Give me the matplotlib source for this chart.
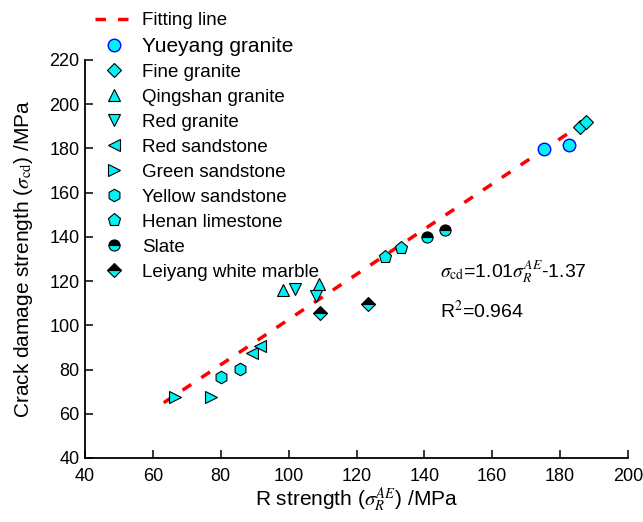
import numpy as np
import matplotlib
matplotlib.use("Agg")
import matplotlib.pyplot as plt

plt.rcParams['font.family'] = ['Liberation Sans', 'DejaVu Sans']
plt.rcParams['mathtext.fontset'] = 'stix'

# data
yueyang_x = [175.3, 182.6]
yueyang_y = [179.8, 181.4]
fine_x = [185.9, 187.6]
fine_y = [189.7, 192.0]
qingshan_x = [98.2, 108.9]
qingshan_y = [116.0, 118.9]
redgranite_x = [102.0, 108.2]
redgranite_y = [116.4, 113.3]
redsand_x = [89.1, 91.5]
redsand_y = [87.5, 90.7]
greensand_x = [66.5, 77.0]
greensand_y = [67.6, 67.4]
yellowsand_x = [80.0, 85.6]
yellowsand_y = [76.6, 80.3]
henan_x = [128.5, 133.0]
henan_y = [130.9, 135.0]
slate_x = [140.9, 146.2]
slate_y = [140.0, 143.1]
leiyang_x = [109.1, 123.5]
leiyang_y = [105.6, 109.6]
fit_x = [63.2, 189.0]
fit_y = [65.0, 193.6]

xticks = [40, 60, 80, 100, 120, 140, 160, 180, 200]
yticks = [40, 60, 80, 100, 120, 140, 160, 180, 200, 220]

cyan = '#00f0f5'

fig = plt.figure(figsize=(6.43, 5.22), dpi=100)
ax = fig.add_axes([85/643, 1-458/522, (628-85)/643, (458-60)/522])

ax.plot(fit_x, fit_y, color='red', lw=2.5, dashes=(3, 3.5), label='Fitting line', zorder=1)

mk = dict(ls='none', mfc=cyan, mec='black', mew=0.8, zorder=3)
ax.plot(yueyang_x, yueyang_y, 'o', ms=9, ls='none', mfc=cyan, mec='blue', mew=1.0,
        label='Yueyang granite', zorder=3)
ax.plot(fine_x, fine_y, 'D', ms=7, label='Fine granite', **mk)
ax.plot(qingshan_x, qingshan_y, '^', ms=8, label='Qingshan granite', **mk)
ax.plot(redgranite_x, redgranite_y, 'v', ms=8, label='Red granite', **mk)
ax.plot(redsand_x, redsand_y, '<', ms=8, label='Red sandstone', **mk)
ax.plot(greensand_x, greensand_y, '>', ms=8, label='Green sandstone', **mk)
ax.plot(yellowsand_x, yellowsand_y, 'h', ms=9, label='Yellow sandstone', **mk)
ax.plot(henan_x, henan_y, 'p', ms=9.5, label='Henan limestone', **mk)
ax.plot(slate_x, slate_y, 'o', ms=8, ls='none', fillstyle='top', mfc='black',
        mfcalt=cyan, mec='black', mew=0.8, label='Slate', zorder=3)
ax.plot(leiyang_x, leiyang_y, 'D', ms=7, ls='none', fillstyle='top', mfc='black',
        mfcalt=cyan, mec='black', mew=0.8, label='Leiyang white marble', zorder=3)

ax.set_xlim(40, 200)
ax.set_ylim(40, 220)
ax.set_xticks(xticks)
ax.set_yticks(yticks)
ax.spines['top'].set_visible(False)
ax.spines['right'].set_visible(False)
for s in ['left', 'bottom']:
    ax.spines[s].set_linewidth(1.3)
ax.tick_params(direction='in', length=6, width=1.1, labelsize=13)
ax.tick_params(axis='x', pad=7)
ax.tick_params(axis='y', pad=4)

ax.set_xlabel(r'R strength ($\sigma_R^{AE}$) /MPa', fontsize=15, labelpad=0)
ax.set_ylabel(r'Crack damage strength ($\sigma_{\mathrm{cd}}$) /MPa', fontsize=15, labelpad=10)

ax.text(144.7, 124.0, r'$\sigma_{\mathrm{cd}}$=1.01$\sigma_R^{AE}$-1.37', fontsize=14,
        va='center', ha='left')
ax.text(144.7, 106.5, r'R$^2$=0.964', fontsize=14, va='center', ha='left')

leg = ax.legend(loc='upper left', bbox_to_anchor=(95/643, 1-12/522),
                bbox_transform=fig.transFigure, frameon=False, fontsize=13.5,
                borderpad=0, borderaxespad=0, handlelength=2.0, handletextpad=0.5,
                labelspacing=0.42)
leg.get_texts()[1].set_fontsize(15)

fig.savefig('out.png', dpi=100)
